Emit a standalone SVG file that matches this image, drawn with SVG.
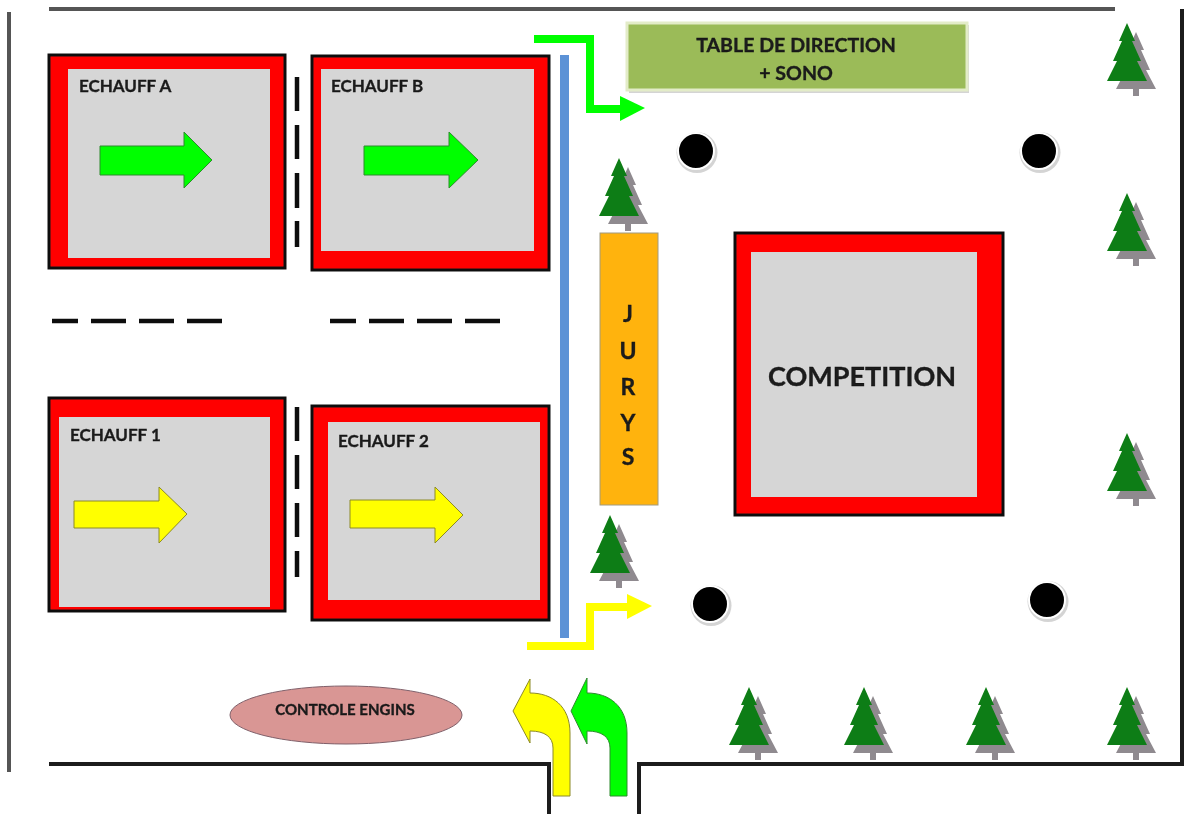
<svg xmlns="http://www.w3.org/2000/svg" width="1190" height="814" viewBox="0 0 1190 814">
<style>
text{font-family:"Lato","Open Sans","Liberation Sans",sans-serif;font-weight:700;fill:#1a1a1a;stroke:#1a1a1a;stroke-width:.35}
.pad{fill:#f00;stroke:#111;stroke-width:3}
.in{fill:#d6d6d6}
.lab{font-size:17px}
.g{fill:#0f0;stroke:#2e8b2e;stroke-width:1}
.y{fill:#ff0;stroke:#8c8a28;stroke-width:1}
.wall{fill:none;stroke:#1a1a1a;stroke-width:4}
.grey{fill:none;stroke:#555;stroke-width:4}
.dash{fill:none;stroke:#111;stroke-width:4.5}
.hole{fill:#000;stroke:#fff;stroke-width:2}
.holesh{fill:#d4d4d4}
.j{font-size:23px;text-anchor:middle}
</style>
<defs>
<filter id="soft" x="0" y="0" width="100%" height="100%"><feGaussianBlur stdDeviation="0.55"/></filter>
<g id="tree">
<path transform="translate(9,9)" fill="#8f8a8f" d="M0 0L8 18H5L14 38H10L20 57H3V64H-3V57H-20L-10 38H-14L-5 18H-8Z"/>
<path fill="#0e7d12" d="M0 0L8 18H5L14 38H10L20 58H-20L-10 38H-14L-5 18H-8Z"/>
</g>
<g id="hole"><circle class="holesh" cx="1" cy="1.5" r="20.5"/><circle class="hole" r="18"/></g>
</defs>
<g filter="url(#soft)">
<rect width="1190" height="814" fill="#fff"/>
<g id="walls">
<path class="grey" d="M49 9H1115"/>
<path class="grey" d="M9 12V772"/>
<path class="wall" d="M1182 9V764H639V814"/>
<path class="wall" d="M49 764H549V814"/>
</g>

<g id="echauff-a">
<rect class="pad" x="49" y="55" width="236" height="213"/>
<rect class="in" x="68" y="69" width="202" height="189"/>
<text class="lab" x="79" y="92">ECHAUFF A</text>
<path class="g" d="M100 146H184V132L212 160L184 188V175H100Z"/>
</g>
<g id="echauff-b">
<rect class="pad" x="312" y="56" width="237" height="214"/>
<rect class="in" x="321" y="69" width="213" height="182"/>
<text class="lab" x="331" y="92">ECHAUFF B</text>
<path class="g" d="M364 146H449V132L478 160L449 188V175H364Z"/>
</g>
<g id="echauff-1">
<rect class="pad" x="49" y="398" width="236" height="213"/>
<rect class="in" x="59" y="417" width="211" height="190"/>
<text class="lab" x="70" y="441">ECHAUFF 1</text>
<path class="y" d="M74 501H159V487L187 514L159 543V528H74Z"/>
</g>
<g id="echauff-2">
<rect class="pad" x="312" y="406" width="237" height="214"/>
<rect class="in" x="328" y="422" width="212" height="178"/>
<text class="lab" x="338" y="447">ECHAUFF 2</text>
<path class="y" d="M350 500H435V487L463 515L435 543V528H350Z"/>
</g>
<g id="competition">
<rect class="pad" x="735" y="233" width="268" height="282"/>
<rect class="in" x="751" y="252" width="226" height="245"/>
<text x="768" y="386" font-size="27">COMPETITION</text>
</g>
<g id="table-direction">
<rect x="629" y="25" width="340" height="68" fill="#d4d4d4"/>
<rect x="627" y="23" width="340" height="67" fill="#9bbb59" stroke="#e3ecc8" stroke-width="3"/>
<text x="796" y="52" font-size="19.6" text-anchor="middle">TABLE DE DIRECTION</text>
<text x="796" y="80" font-size="19.6" text-anchor="middle">+ SONO</text>
</g>
<g id="jurys">
<rect x="600" y="233" width="58" height="272" fill="#ffb30f" stroke="#a09a80" stroke-width="1"/>
<text class="j" x="628" y="322">J</text>
<text class="j" x="628" y="359">U</text>
<text class="j" x="628" y="395">R</text>
<text class="j" x="628" y="431">Y</text>
<text class="j" x="628" y="465">S</text>
</g>
<g id="controle-engins">
<ellipse cx="346" cy="715" rx="116" ry="29" fill="#d99694" stroke="#80606a" stroke-width="1"/>
<text x="345" y="715" font-size="15" text-anchor="middle">CONTROLE ENGINS</text>
</g>
<g id="barrier"><rect x="560" y="55" width="9" height="583" fill="#5b92d6"/></g>
<g id="holes">
<use href="#hole" x="696" y="151"/>
<use href="#hole" x="1039" y="151"/>
<use href="#hole" x="710" y="604"/>
<use href="#hole" x="1047" y="600"/>
</g>
<g id="trees">
<use href="#tree" x="1127" y="23"/>
<use href="#tree" x="619" y="158"/>
<use href="#tree" x="1127" y="193"/>
<use href="#tree" x="1127" y="433"/>
<use href="#tree" x="610" y="515"/>
<use href="#tree" x="749" y="687"/>
<use href="#tree" x="864" y="687"/>
<use href="#tree" x="986" y="687"/>
<use href="#tree" x="1127" y="687"/>
</g>
<g id="dashes">
<path class="dash" d="M297 77V111M297 125V159M297 173V208M297 221V247"/>
<path class="dash" d="M297 407V441M297 455V489M297 503V537M297 551V577"/>
<path class="dash" d="M52 321H78M91 321H126M139 321H174M187 321H222"/>
<path class="dash" d="M330 321H356M369 321H404M417 321H452M465 321H500"/>
</g>
<g id="connectors">
<path fill="none" stroke="#0f0" stroke-width="8" d="M534 39H590V109H622"/>
<path fill="#0f0" d="M620 96L645 108L620 121Z"/>
<path fill="none" stroke="#ff0" stroke-width="8" d="M527 646H590V607H629"/>
<path fill="#ff0" d="M627 594L652 606L627 619Z"/>
<path class="y" d="M553 796H570V733C570 706 552 693 530 693V679L513 711L530 743V731C545 731 553 737 553 748Z"/>
<path class="g" d="M610 796H627V733C627 706 609 693 587 693V678L571 711L587 744V731C602 731 610 737 610 748Z"/>
</g>
</g>
</svg>
